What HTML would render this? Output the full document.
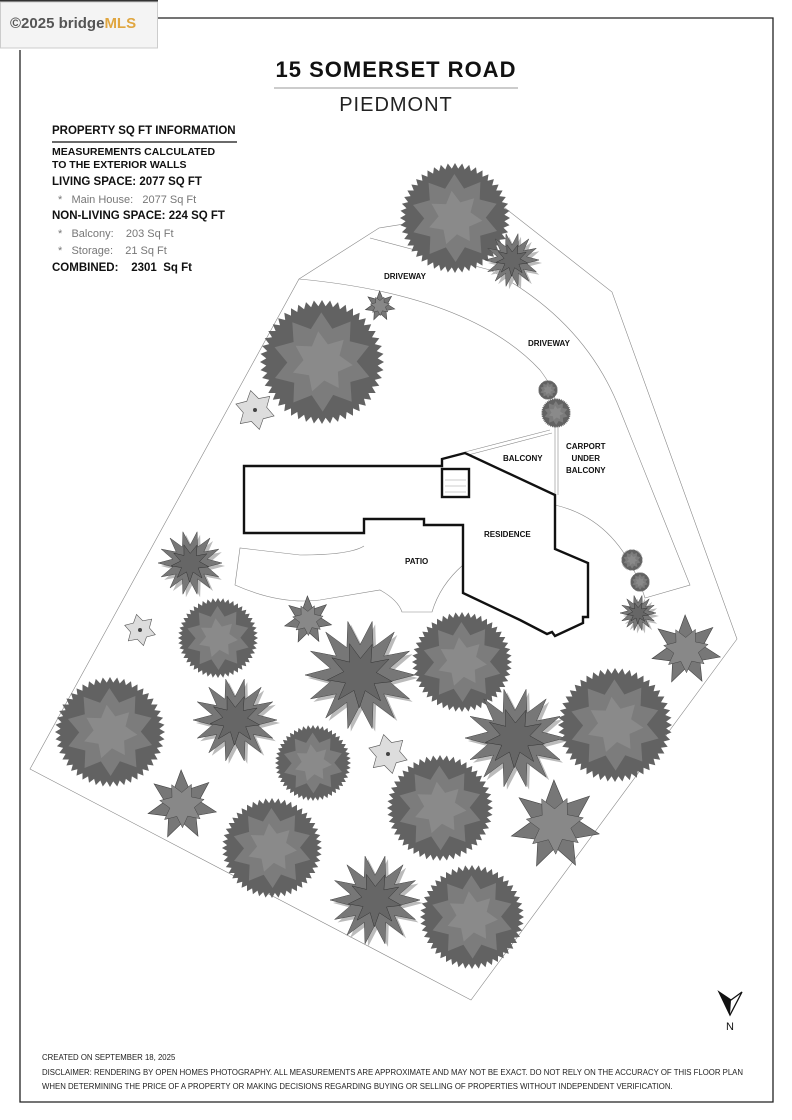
<!DOCTYPE html>
<html><head><meta charset="utf-8"><style>
body{margin:0;background:#fff;}
#p{position:relative;width:792px;height:1120px;overflow:hidden;font-family:"Liberation Sans",sans-serif;color:#111;}
.t{position:absolute;white-space:nowrap;}
</style></head><body><div id="p">
<svg id="s" width="792" height="1120" style="position:absolute;left:0;top:0">
<rect x="0" y="0" width="158" height="2" fill="#333"/>
<rect x="0.5" y="2" width="157" height="46" fill="#f4f4f4" stroke="#ccc"/>
<polyline points="158,18 773,18 773,1102 20,1102 20,50" fill="none" stroke="#222" stroke-width="1.3"/>
<line x1="274" y1="88" x2="518" y2="88" stroke="#999" stroke-width="1"/>
<line x1="52" y1="142" x2="237" y2="142" stroke="#111" stroke-width="1.3"/>
<g fill="none" stroke="#888" stroke-width="0.6">
<polygon points="299,279 379,228 505,208 612,292 737,639 471,1000 30,769"/>
<path d="M370,238 L490,270 Q585,320 620,410 L690,585 L645,598 Q620,520 555,505"/>
<path d="M299,279 Q470,295 540,370 Q555,390 555,400 L555,495 M558,400 L558,495"/>
<path d="M465,452 L550,430 M468,455 L552,433"/>
<path d="M364,546 Q350,555 300,555 L240,548 L235,585 Q280,605 320,600 L380,590 Q398,600 402,612 L432,612 Q440,585 463,565"/>
</g>
<g fill="none" stroke="#111" stroke-width="2.4" stroke-linejoin="miter">
<polygon points="244,466 442,466 442,459 465,453 555,495 555,549 588,563 588,617 583,617 583,623 555,636 552,632 547,634 520,620 463,593 463,525 424,525 424,519 364,519 364,533 244,533"/>
<rect x="442" y="469" width="27" height="28"/>
</g>
<g stroke="#999" stroke-width="0.5"><line x1="445" y1="480" x2="466" y2="480"/><line x1="445" y1="486" x2="466" y2="486"/><line x1="445" y1="492" x2="466" y2="492"/></g>
<g id="trees"></g>
<polygon points="719,992 730,1015 742,992 731,1000" fill="#fff" stroke="#111" stroke-width="1.3"/>
<polygon points="719,992 730,1015 731,1000" fill="#111"/>
</svg>
<div class="t" style="left:10px;top:15px;font-size:15px;color:#555;font-weight:bold">©2025 bridge<span style="color:#e0a640">MLS</span></div>
<div class="t" style="left:0;width:792px;text-align:center;top:57px;font-size:22px;font-weight:bold;letter-spacing:1px">15 SOMERSET ROAD</div>
<div class="t" style="left:0;width:792px;text-align:center;top:94px;font-size:20px;letter-spacing:1px;color:#222">PIEDMONT</div>
<div class="t" style="left:52px;top:125px;font-size:11.5px;font-weight:bold">PROPERTY SQ FT INFORMATION</div>
<div class="t" style="left:52px;top:146px;font-size:10.5px;font-weight:bold;line-height:13px">MEASUREMENTS CALCULATED<br>TO THE EXTERIOR WALLS</div>
<div class="t" style="left:52px;top:176px;font-size:11.5px;font-weight:bold">LIVING SPACE: 2077 SQ FT</div>
<div class="t" style="left:58px;top:194px;font-size:11px;color:#777">*&nbsp;&nbsp; Main House:&nbsp;&nbsp; 2077 Sq Ft</div>
<div class="t" style="left:52px;top:210px;font-size:11.5px;font-weight:bold">NON-LIVING SPACE: 224 SQ FT</div>
<div class="t" style="left:58px;top:228px;font-size:11px;color:#777">*&nbsp;&nbsp; Balcony:&nbsp;&nbsp;&nbsp; 203 Sq Ft</div>
<div class="t" style="left:58px;top:245px;font-size:11px;color:#777">*&nbsp;&nbsp; Storage:&nbsp;&nbsp;&nbsp; 21 Sq Ft</div>
<div class="t" style="left:52px;top:262px;font-size:11.5px;font-weight:bold">COMBINED:&nbsp;&nbsp;&nbsp; 2301&nbsp; Sq Ft</div>
<div class="t" style="left:384px;top:272px;font-size:8px;font-weight:bold">DRIVEWAY</div>
<div class="t" style="left:528px;top:339px;font-size:8px;font-weight:bold">DRIVEWAY</div>
<div class="t" style="left:503px;top:454px;font-size:8px;font-weight:bold">BALCONY</div>
<div class="t" style="left:566px;top:441px;font-size:8px;font-weight:bold;text-align:center;line-height:12px">CARPORT<br>UNDER<br>BALCONY</div>
<div class="t" style="left:484px;top:530px;font-size:8px;font-weight:bold">RESIDENCE</div>
<div class="t" style="left:405px;top:557px;font-size:8px;font-weight:bold">PATIO</div>
<div class="t" style="left:726px;top:1021px;font-size:11px">N</div>
<div class="t" style="left:42px;top:1053px;font-size:7.8px;color:#222">CREATED ON SEPTEMBER 18, 2025</div>
<div class="t" style="left:42px;top:1068px;font-size:7.8px;color:#222">DISCLAIMER: RENDERING BY OPEN HOMES PHOTOGRAPHY. ALL MEASUREMENTS ARE APPROXIMATE AND MAY NOT BE EXACT. DO NOT RELY ON THE ACCURACY OF THIS FLOOR PLAN</div>
<div class="t" style="left:42px;top:1082px;font-size:7.8px;color:#222">WHEN DETERMINING THE PRICE OF A PROPERTY OR MAKING DECISIONS REGARDING BUYING OR SELLING OF PROPERTIES WITHOUT INDEPENDENT VERIFICATION.</div>
</div>
<script>
var T=[[455,218,55,'b'],[512,260,27,'s'],[380,306,15,'f'],[322,362,62,'b'],[255,410,20,'l'],[548,390,10,'b'],[556,413,15,'b'],[190,563,32,'s'],[140,630,16,'l'],[218,638,40,'b'],[308,620,24,'f'],[360,675,55,'s'],[462,662,50,'b'],[632,560,11,'b'],[640,582,10,'b'],[638,613,18,'s'],[686,650,35,'f'],[110,732,55,'b'],[235,720,42,'s'],[313,763,38,'b'],[388,754,20,'l'],[515,738,50,'s'],[615,725,57,'b'],[182,805,35,'f'],[440,808,53,'b'],[555,825,45,'f'],[272,848,50,'b'],[375,900,45,'s'],[472,917,52,'b']];
var g=document.getElementById('trees'),h='';
function star(cx,cy,r,n,k,rot){var p=[];for(var i=0;i<2*n;i++){var a=rot+i*Math.PI/n,rr=i%2?r*k:r;p.push((cx+rr*Math.cos(a)).toFixed(1)+','+(cy+rr*Math.sin(a)).toFixed(1));}return p.join(' ');}
T.forEach(function(t){var x=t[0],y=t[1],r=t[2],c=t[3];
if(c=='b'){h+='<polygon points="'+star(x,y,r,48,0.9,0)+'" fill="#626262"/>';h+='<polygon points="'+star(x,y,r*0.8,10,0.7,0.3)+'" fill="#7c7c7c"/>';h+='<polygon points="'+star(x,y,r*0.5,7,0.6,0.1)+'" fill="#8a8a8a"/>';}
else if(c=='s'){h+='<polygon points="'+star(x+3,y+3,r,14,0.55,0)+'" fill="#bbb"/>';h+='<polygon points="'+star(x,y,r,14,0.55,0)+'" fill="#777" stroke="#444" stroke-width="0.5"/>';h+='<polygon points="'+star(x,y,r*0.6,9,0.5,0.2)+'" fill="#666" stroke="#333" stroke-width="0.5"/>';}
else if(c=='f'){h+='<polygon points="'+star(x,y,r,7,0.5,0.2)+'" fill="#777" stroke="#444" stroke-width="0.6"/>';h+='<polygon points="'+star(x,y,r*0.65,7,0.55,0.65)+'" fill="#888" stroke="#444" stroke-width="0.5"/>';}
else {h+='<polygon points="'+star(x,y,r,6,0.6,0.3)+'" fill="#ddd" stroke="#555" stroke-width="0.6"/>';h+='<circle cx="'+x+'" cy="'+y+'" r="2" fill="#444"/>';}
});
g.innerHTML=h;
</script>
</body></html>
